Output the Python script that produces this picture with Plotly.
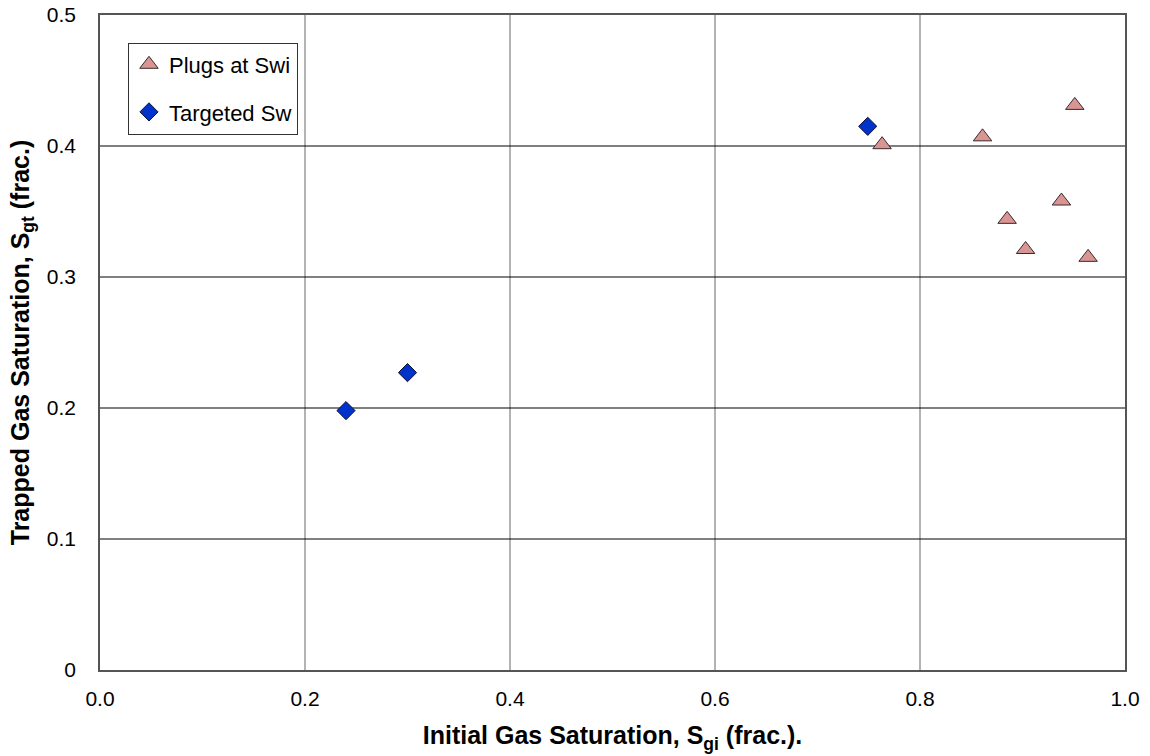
import plotly.graph_objects as go

# Plug measurements at irreducible water saturation
plugs_sgi = [0.763, 0.861, 0.951, 0.938, 0.885, 0.903, 0.964]
plugs_sgt = [0.401, 0.407, 0.431, 0.358, 0.344, 0.321, 0.315]

# Plugs brought to a targeted water saturation
target_sgi = [0.749, 0.240, 0.300]
target_sgt = [0.415, 0.198, 0.227]

x_ticks = [0.0, 0.2, 0.4, 0.6, 0.8, 1.0]
x_labels = ["0.0", "0.2", "0.4", "0.6", "0.8", "1.0"]
y_ticks = [0.0, 0.1, 0.2, 0.3, 0.4, 0.5]
y_labels = ["0", "0.1", "0.2", "0.3", "0.4", "0.5"]

font_family = "Liberation Sans, Arial, sans-serif"

fig = go.Figure()
fig.add_trace(go.Scatter(
    x=plugs_sgi, y=plugs_sgt, mode="markers", name="Plugs at Swi",
    legendgroup="a",
    marker=dict(symbol="triangle-up", size=16, color="#D99594",
                line=dict(color="#3a2a2a", width=1)),
))
fig.add_trace(go.Scatter(
    x=target_sgi, y=target_sgt, mode="markers", name="Targeted Sw",
    legendgroup="b",
    marker=dict(symbol="diamond", size=14, color="#0033CC",
                line=dict(color="#111133", width=1)),
))

# vertical grid lines drawn in grey, horizontal ones in black
for xv in x_ticks[1:-1]:
    fig.add_shape(type="line", xref="x", yref="paper", x0=xv, x1=xv, y0=0, y1=1,
                  line=dict(color="#9a9a9a", width=1.5), layer="below")
for yv in y_ticks[1:-1]:
    fig.add_shape(type="line", xref="paper", yref="y", x0=0, x1=1, y0=yv, y1=yv,
                  line=dict(color="#000000", width=1), layer="below")

fig.update_layout(
    width=1150, height=756,
    margin=dict(l=100, r=25, t=15, b=86, autoexpand=False),
    paper_bgcolor="white", plot_bgcolor="white",
    font=dict(family=font_family, size=21, color="#000"),
    showlegend=True,
    legend=dict(
        x=0.0273, y=0.958, xanchor="left", yanchor="top",
        bgcolor="white", bordercolor="#333", borderwidth=1,
        font=dict(size=22, color="#000"),
        traceorder="grouped", tracegroupgap=16,
        itemwidth=30,
    ),
    xaxis=dict(
        range=[0, 1], tickvals=x_ticks, ticktext=x_labels,
        showgrid=False, zeroline=False,
        showline=True, mirror=True, linecolor="#555", linewidth=1.5,
        ticks="", ticklen=0, ticklabelstandoff=9,
        tickfont=dict(size=21, color="#000"),
        title=dict(text="<b>Initial Gas Saturation, S<sub>gi</sub> (frac.).</b>",
                   font=dict(size=25, color="#000"), standoff=18),
    ),
    yaxis=dict(
        range=[0, 0.5], tickvals=y_ticks, ticktext=y_labels,
        showgrid=False, zeroline=False,
        showline=True, mirror=True, linecolor="#555", linewidth=1.5,
        ticks="", ticklen=0, ticklabelstandoff=18,
        tickfont=dict(size=21, color="#000"),
        title=dict(text="<b>Trapped Gas Saturation, S<sub>gt</sub> (frac.)</b>",
                   font=dict(size=25, color="#000"), standoff=10),
    ),
)

fig.write_html("out.html")
